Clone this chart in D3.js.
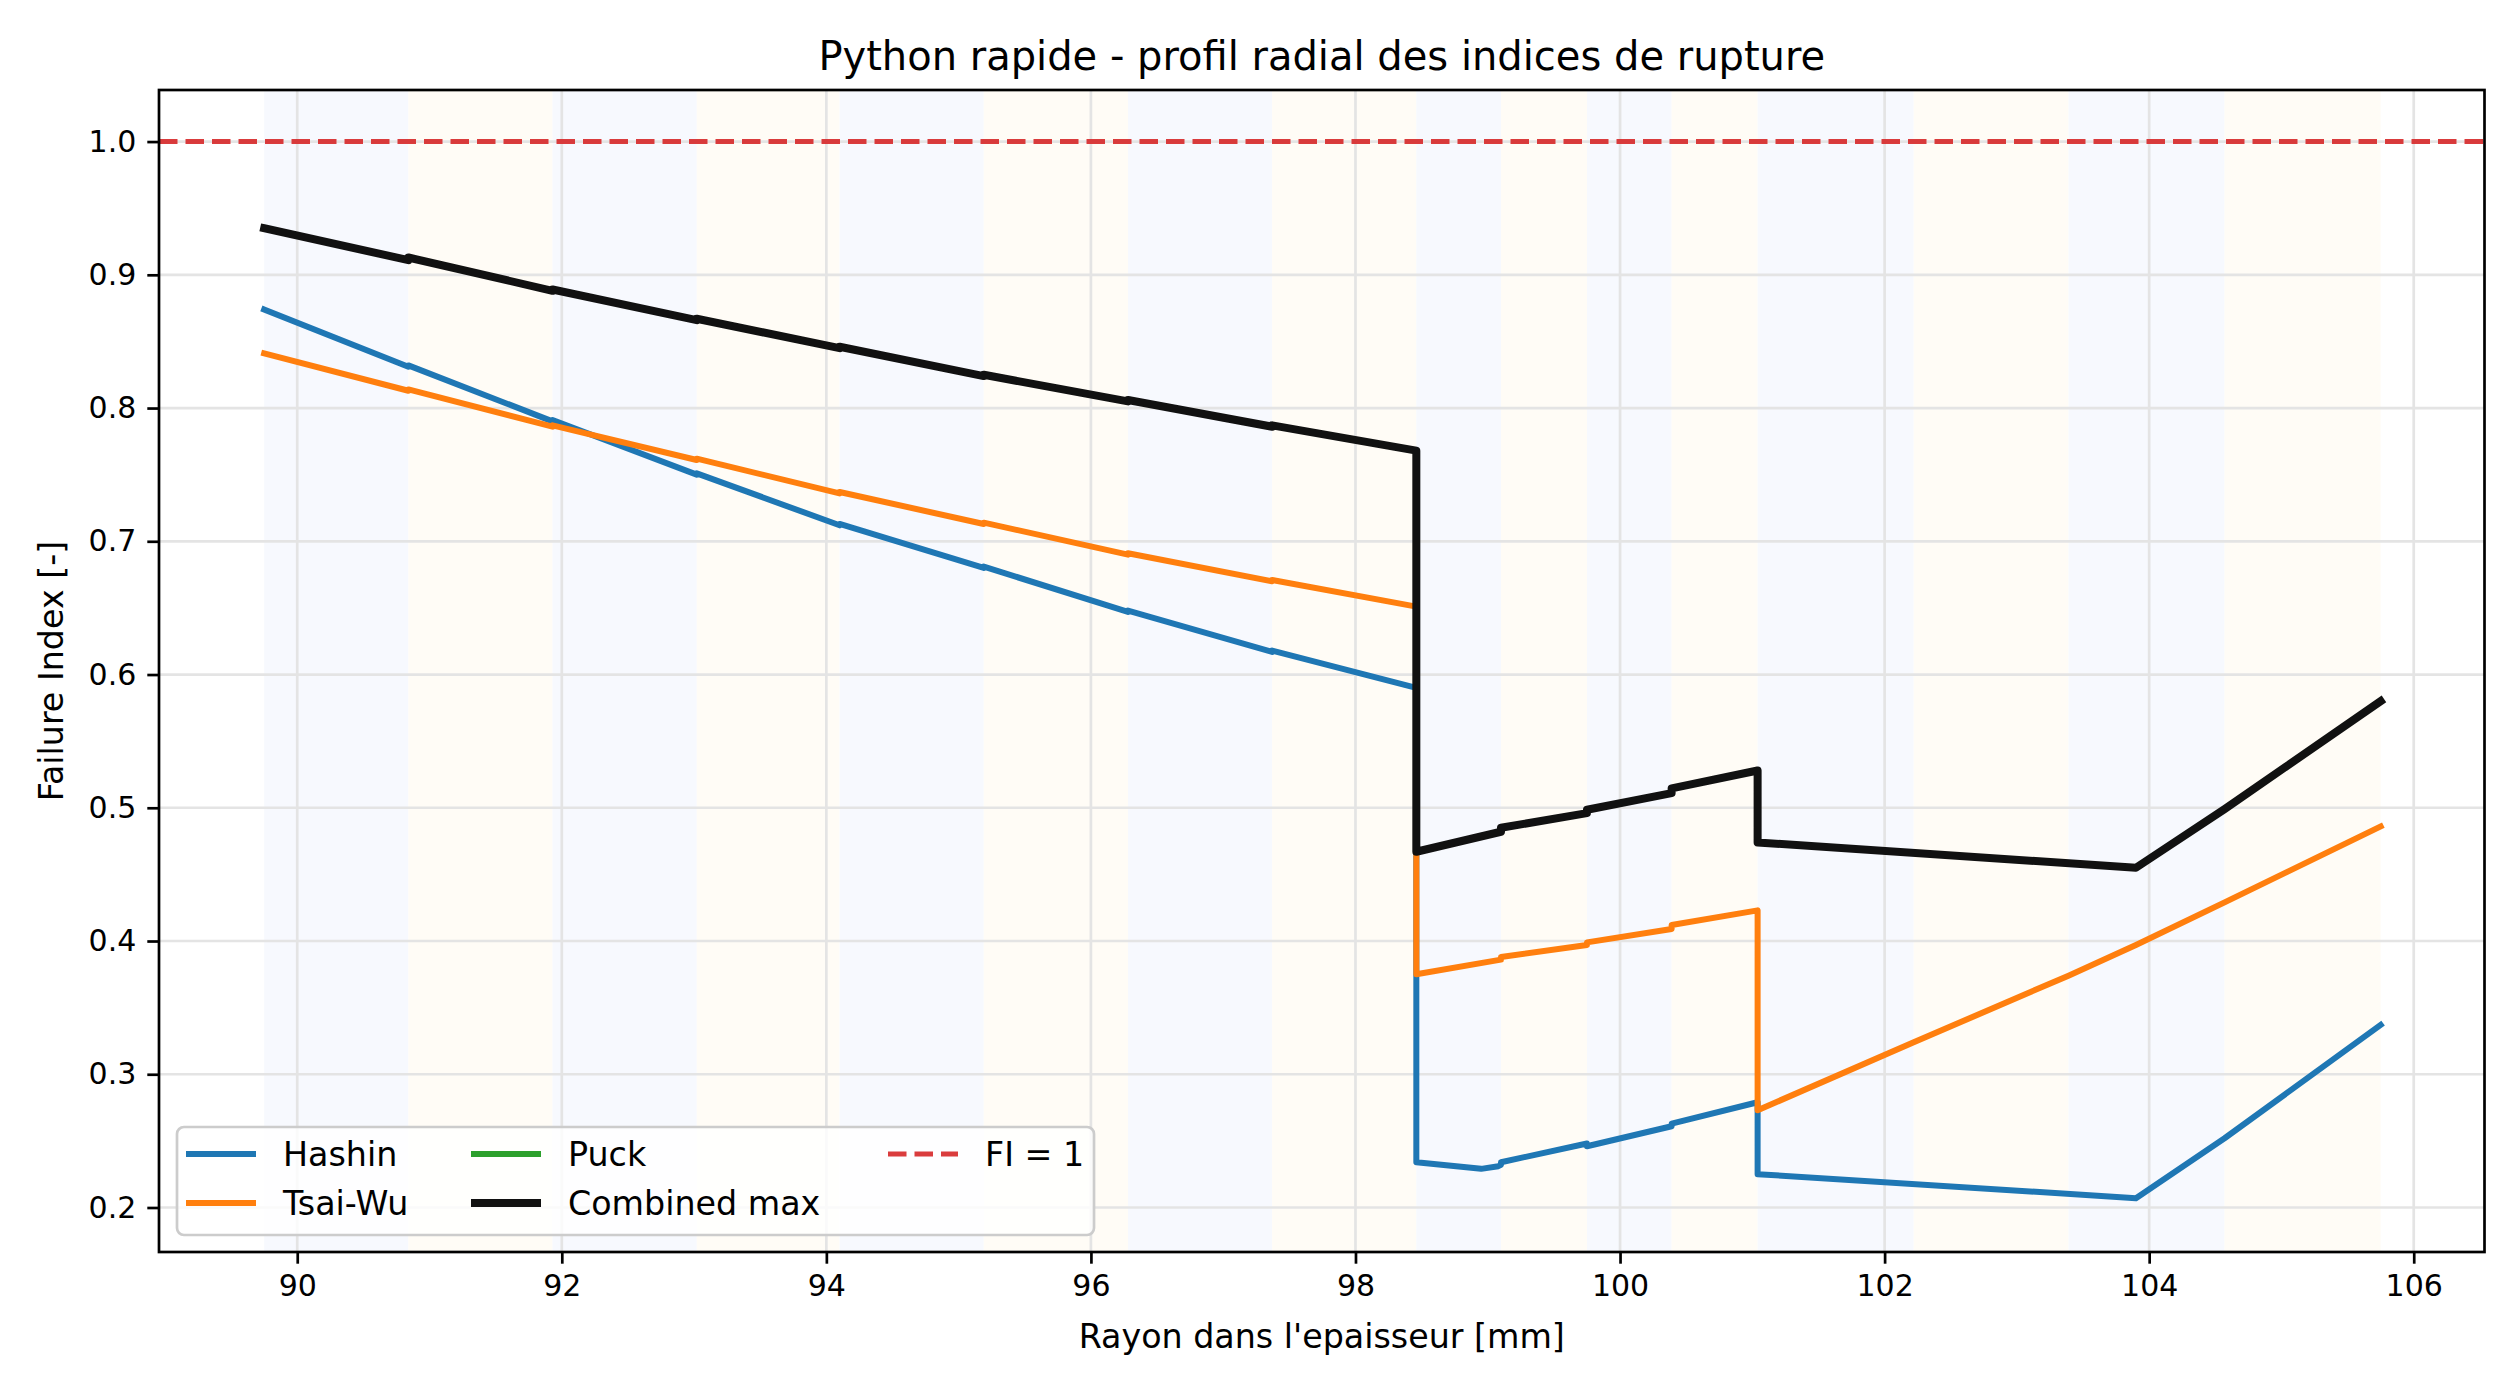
<!DOCTYPE html>
<html>
<head>
<meta charset="utf-8">
<script src="https://cdn.jsdelivr.net/npm/d3@7"></script>
<style>
  body { margin: 0; background: #fff; }
  svg { display: block; font-family: "DejaVu Sans", sans-serif; }
</style>
</head>
<body>
<div id="chart"></div>
<script>
// ply boundaries (mm) - alternating shaded bands
const plyEdges = [89.75, 90.84, 91.93, 93.02, 94.10, 95.19, 96.28, 97.37, 98.46,
                  99.10, 99.75, 100.39, 101.04, 102.22, 103.39, 104.57, 105.75];

// Hashin
const hashinR  = [89.75, 90.84, 90.84, 91.93, 91.93, 93.02, 93.02, 94.10, 94.10, 95.19, 95.19,
                  96.28, 96.28, 97.37, 97.37, 98.46, 98.46, 98.95, 99.08, 99.10, 99.10, 99.75,
                  99.75, 100.39, 100.39, 101.04, 101.04, 103.90, 104.57, 105.75];
const hashinFI = [0.874, 0.831, 0.832, 0.790, 0.791, 0.750, 0.751, 0.712, 0.713, 0.680, 0.681,
                  0.647, 0.648, 0.617, 0.618, 0.590, 0.234, 0.229, 0.231, 0.232, 0.234, 0.248,
                  0.246, 0.261, 0.263, 0.279, 0.225, 0.207, 0.252, 0.337];

// Tsai-Wu
const tsaiR  = [89.75, 90.84, 90.84, 91.93, 91.93, 93.02, 93.02, 94.10, 94.10, 95.19, 95.19,
                96.28, 96.28, 97.37, 97.37, 98.46, 98.46, 99.10, 99.10, 99.75, 99.75, 100.39,
                100.39, 101.04, 101.04, 102.22, 103.39, 103.90, 104.57, 105.75];
const tsaiFI = [0.841, 0.813, 0.814, 0.786, 0.787, 0.761, 0.762, 0.736, 0.737, 0.713, 0.714,
                0.690, 0.691, 0.670, 0.671, 0.651, 0.375, 0.386, 0.388, 0.397, 0.399, 0.409,
                0.412, 0.423, 0.273, 0.324, 0.374, 0.397, 0.429, 0.486];

// Puck (hidden under the combined max)
const puckR  = [89.75, 90.84, 90.84, 91.93, 91.93, 93.02, 93.02, 94.10, 94.10, 95.19, 95.19,
                96.28, 96.28, 97.37, 97.37, 98.46, 98.46, 99.10, 99.10, 99.75, 99.75, 100.39,
                100.39, 101.04, 101.04, 103.90, 104.57, 105.75];
const puckFI = [0.935, 0.911, 0.913, 0.888, 0.889, 0.866, 0.867, 0.845, 0.846, 0.824, 0.825,
                0.805, 0.806, 0.786, 0.787, 0.768, 0.467, 0.482, 0.485, 0.496, 0.4985, 0.511,
                0.5145, 0.528, 0.474, 0.455, 0.499, 0.580];

// Combined max
const combR  = puckR;
const combFI = [0.935, 0.911, 0.913, 0.888, 0.889, 0.866, 0.867, 0.845, 0.846, 0.824, 0.825,
                0.805, 0.806, 0.786, 0.787, 0.768, 0.467, 0.482, 0.485, 0.496, 0.4985, 0.511,
                0.5145, 0.528, 0.474, 0.455, 0.499, 0.580];

const xTicks = [90, 92, 94, 96, 98, 100, 102, 104, 106];
const yTicks = [0.2, 0.3, 0.4, 0.5, 0.6, 0.7, 0.8, 0.9, 1.0];
const threshold = 1.0;

const width = 2520, height = 1392;
const mLeft = 159, mRight = 2484.5, mTop = 90, mBottom = 1252;

const svg = d3.select("#chart")
              .append("svg")
                .attr("width", width)
                .attr("height", height);

const x = d3.scaleLinear().domain([88.955, 106.535]).range([mLeft, mRight]);
const y = d3.scaleLinear().domain([0.1666, 1.0387]).range([mBottom, mTop]);

// shaded ply bands
svg.append("g")
   .selectAll("rect")
   .data(d3.pairs(plyEdges))
   .join("rect")
     .attr("x", d => x(d[0]))
     .attr("width", d => x(d[1]) - x(d[0]))
     .attr("y", mTop)
     .attr("height", mBottom - mTop)
     .attr("fill", (d, i) => i % 2 === 0 ? "#f7f9fe" : "#fffcf6");

// grid
const grid = svg.append("g").attr("stroke", "#e4e4e4").attr("stroke-width", 2.7);
grid.selectAll(".gx").data(xTicks).join("line")
    .attr("x1", d => x(d)).attr("x2", d => x(d))
    .attr("y1", mTop).attr("y2", mBottom);
grid.selectAll(".gy").data(yTicks).join("line")
    .attr("x1", mLeft).attr("x2", mRight)
    .attr("y1", d => y(d)).attr("y2", d => y(d));

// series
const series = [
  {name: "Hashin",       r: hashinR, v: hashinFI, color: "#1f77b4", lw: 6},
  {name: "Tsai-Wu",      r: tsaiR,   v: tsaiFI,   color: "#ff7f0e", lw: 6},
  {name: "Puck",         r: puckR,   v: puckFI,   color: "#2ca02c", lw: 6},
  {name: "Combined max", r: combR,   v: combFI,   color: "#111111", lw: 8}
];

const line = d3.line().x(d => x(d[0])).y(d => y(d[1]));

svg.append("g")
   .selectAll("path")
   .data(series)
   .join("path")
     .attr("d", s => line(d3.zip(s.r, s.v)))
     .attr("fill", "none")
     .attr("stroke", s => s.color)
     .attr("stroke-width", s => s.lw)
     .attr("stroke-linejoin", "round")
     .attr("stroke-linecap", "square");

// FI = 1
svg.append("line")
   .attr("x1", mLeft).attr("x2", mRight)
   .attr("y1", y(threshold)).attr("y2", y(threshold))
   .attr("stroke", "#d62728")
   .attr("stroke-opacity", 0.9)
   .attr("stroke-width", 5)
   .attr("stroke-dasharray", "18.5,8");

// axes
const xAxis = svg.append("g")
   .attr("transform", `translate(0,${mBottom})`)
   .call(d3.axisBottom(x).tickValues(xTicks).tickFormat(d3.format("d")).tickSizeOuter(0).tickSize(11.7).tickPadding(11));
const yAxis = svg.append("g")
   .attr("transform", `translate(${mLeft},0)`)
   .call(d3.axisLeft(y).tickValues(yTicks).tickFormat(d3.format(".1f")).tickSizeOuter(0).tickSize(11.7).tickPadding(11));

[xAxis, yAxis].forEach(a => {
  a.select(".domain").remove();
  a.selectAll(".tick line").attr("stroke", "#000").attr("stroke-width", 2.7);
  a.selectAll(".tick text").attr("font-size", 30).attr("fill", "#000")
   .attr("font-family", "DejaVu Sans");
});

// frame
svg.append("rect")
   .attr("x", mLeft).attr("y", mTop)
   .attr("width", mRight - mLeft).attr("height", mBottom - mTop)
   .attr("fill", "none")
   .attr("stroke", "#000")
   .attr("stroke-width", 2.7);

// labels
svg.append("text")
   .attr("x", (mLeft + mRight) / 2).attr("y", 70)
   .attr("text-anchor", "middle")
   .attr("font-size", 40)
   .text("Python rapide - profil radial des indices de rupture");

svg.append("text")
   .attr("x", (mLeft + mRight) / 2).attr("y", 1348)
   .attr("text-anchor", "middle")
   .attr("font-size", 33.3)
   .text("Rayon dans l'epaisseur [mm]");

svg.append("text")
   .attr("transform", `translate(63,${(mTop + mBottom) / 2}) rotate(-90)`)
   .attr("text-anchor", "middle")
   .attr("font-size", 33.3)
   .text("Failure Index [-]");

// legend
const legendItems = [
  {name: "Hashin",       color: "#1f77b4", lw: 6, dash: null, col: 0, row: 0},
  {name: "Tsai-Wu",      color: "#ff7f0e", lw: 6, dash: null, col: 0, row: 1},
  {name: "Puck",         color: "#2ca02c", lw: 6, dash: null, col: 1, row: 0},
  {name: "Combined max", color: "#111111", lw: 8, dash: null, col: 1, row: 1},
  {name: "FI = 1",       color: "#d62728", lw: 5, dash: "18.5,8", col: 2, row: 0}
];
const colX = [186, 471, 888];
const rowY = [1154, 1203];

const legend = svg.append("g");
legend.append("rect")
   .attr("x", 177).attr("y", 1127)
   .attr("width", 917).attr("height", 108)
   .attr("rx", 7)
   .attr("fill", "#fff").attr("fill-opacity", 0.8)
   .attr("stroke", "#cccccc").attr("stroke-width", 2.7);

const li = legend.selectAll("g.item")
   .data(legendItems)
   .join("g")
     .attr("transform", d => `translate(${colX[d.col]},${rowY[d.row]})`);
li.append("line")
   .attr("x1", 0).attr("x2", 70)
   .attr("stroke", d => d.color)
   .attr("stroke-width", d => d.lw)
   .attr("stroke-opacity", d => d.dash ? 0.9 : 1)
   .attr("stroke-dasharray", d => d.dash);
li.append("text")
   .attr("x", 97).attr("y", 12)
   .attr("font-size", 33.3)
   .text(d => d.name);
</script>
</body>
</html>
